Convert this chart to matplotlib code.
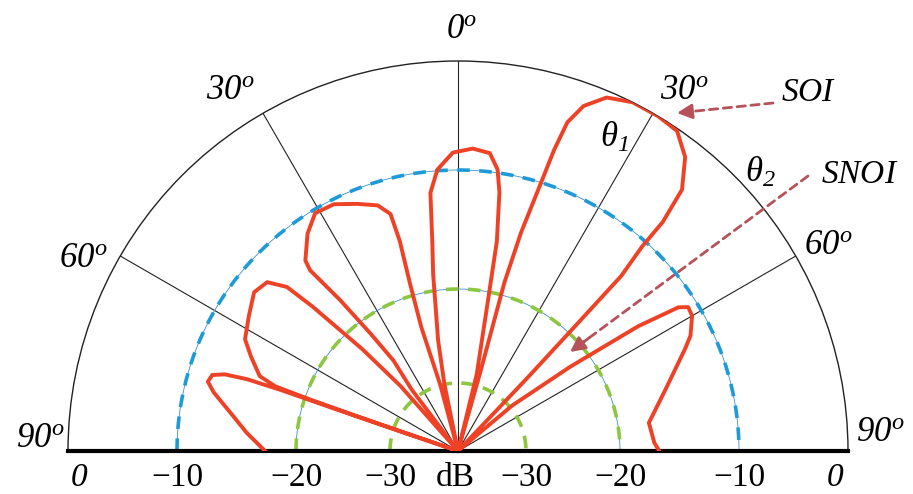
import matplotlib
matplotlib.use("Agg")
import matplotlib.pyplot as plt
import numpy as np

# beam pattern: angle (deg, clockwise from broadside) and level (dB)
pattern_deg = [-90.0, -85.1, -80.4, -76.5, -74.5, -72.8, -71.8, -71.2, -71.0, -71.1, -71.3, -71.3,
               -71.0, -70.8, -70.5, -69.3, -65.5, -62.3, -57.2, -52.1, -48.5, -46.2, -45.2, -44.3,
               -43.2, -41.5, -40.0, -37.0, -35.5, -36.7, -38.0, -39.3, -38.7, -34.7, -31.0, -26.7,
               -22.1, -18.1, -15.9, -15.5, -16.0, -16.5, -15.0, -13.0, -11.5, -10.2, -8.0, -7.0,
               -6.1, -4.2, -1.0, 2.8, 6.1, 8.0, 9.1, 10.5, 11.4, 13.7, 14.8, 15.8,
               15.4, 16.1, 17.2, 17.7, 18.4, 20.0, 22.8, 26.6, 30.9, 34.4, 37.7, 40.6,
               41.8, 42.0, 43.0, 43.2, 43.5, 46.0, 50.0, 53.1, 55.3, 56.9, 58.0, 60.0,
               63.6, 65.8, 73.4, 81.6, 87.6, 90.0]
pattern_db = [-17.4, -15.8, -14.2, -12.5, -11.8, -12.0, -13.0, -14.9, -17.9, -23.0, -30.6, -36.0,
              -26.0, -20.5, -17.3, -15.8, -14.5, -13.4, -12.7, -11.9, -12.2, -13.7, -16.4, -19.4,
              -22.4, -28.0, -36.0, -29.0, -25.4, -21.6, -17.5, -14.0, -13.1, -11.4, -10.3, -10.4,
              -11.2, -11.9, -12.9, -15.3, -19.0, -23.5, -30.0, -36.0, -30.0, -25.3, -18.6, -15.9,
              -11.8, -9.9, -8.4, -8.0, -8.3, -9.7, -11.6, -15.7, -21.7, -28.8, -36.0, -28.7,
              -18.9, -14.5, -10.0, -6.8, -4.0, -2.1, -0.6, 0.0, 0.0, -0.2, -1.7, -4.2,
              -7.6, -10.5, -13.5, -19.9, -26.6, -36.0, -29.7, -22.3, -15.2, -11.5, -10.8, -10.9,
              -11.8, -12.7, -15.4, -17.4, -17.1, -16.7]

ref_levels = [-10, -20, -30]
ref_colors = ["#1e9ad6", "#8dc63f", "#8dc63f"]
spoke_deg = [-60, -30, 0, 30, 60]
db_ticks = [-30, -20, -10]

# radial spacing of the original is not linear in dB
scale_db = [-100, -36, -30, -20, -10, 0, 100]
scale_r = [-725, 0, 68, 162, 281, 390, 1480]


def fwd(v):
    return np.interp(v, scale_db, scale_r)


def inv(v):
    return np.interp(v, scale_r, scale_db)


plt.rcParams["mathtext.fontset"] = "custom"
plt.rcParams["mathtext.it"] = "Liberation Serif:italic"
plt.rcParams["mathtext.rm"] = "Liberation Serif:italic"
plt.rcParams["font.family"] = "Liberation Serif"

W, H = 913, 494
fig = plt.figure(figsize=(W / 100, H / 100), dpi=100)
# square box: the half disc fills its width and sits in the vertical middle
cx, cy, R = 458, 451, 390
ax = fig.add_axes([(cx - R) / W, (H - cy - R / 2) / H, 2 * R / W, 2 * R / H],
                  projection="polar")
ax.set_theta_zero_location("N")
ax.set_theta_direction(-1)
ax.set_thetamin(-90)
ax.set_thetamax(90)
ax.set_rscale("function", functions=(fwd, inv))
ax.set_rlim(-36, 0)

ax.set_thetagrids(spoke_deg, labels=[""] * len(spoke_deg))
ax.xaxis.grid(True, color="#222222", lw=0.8)
ax.yaxis.grid(False)
ax.set_yticklabels([])
ax.tick_params(length=0)
ax.spines["polar"].set_linewidth(1.0)
ax.spines["polar"].set_color("#222222")
for s in ("start", "end"):
    ax.spines[s].set_linewidth(3)
    ax.spines[s].set_color("black")

th = np.deg2rad(np.linspace(-90, 90, 400))
for lvl, col in zip(ref_levels, ref_colors):
    if lvl > -30:
        ax.plot(th, np.full_like(th, lvl), color="#3a8fd0", lw=0.6, zorder=2)
    ax.plot(th, np.full_like(th, lvl), color=col, lw=2.6, ls=(0, (3.5, 2.6)), zorder=2)

ax.plot(np.deg2rad(pattern_deg), pattern_db, color="#ee4125", lw=2.8,
        solid_joinstyle="round", zorder=3)

# radial tick labels along the baseline
for side in (-90, 90):
    for v in db_ticks:
        ax.annotate("\u2212%d" % abs(v), (np.deg2rad(side), v), xytext=(0, -19),
                    textcoords="offset points", ha="center", va="center", fontsize=24)
    ax.annotate("$0$", (np.deg2rad(side), 0), xytext=(8 if side < 0 else -9, -19),
                textcoords="offset points", ha="center", va="center", fontsize=24)
ax.annotate("dB", (0, -36), xytext=(-2, -19), textcoords="offset points",
            ha="center", va="center", fontsize=24)

# angle labels (figure pixels from the top-left)
angle_labels = [("0", 462, 30), ("30", 230, 90), ("60", 83, 258), ("90", 40, 438),
                ("30", 684, 90), ("60", 828, 245), ("90", 880, 432)]
for txt, px, py in angle_labels:
    fig.text(px / W, 1 - py / H, "$%s^{o}$" % txt, ha="center", va="center", fontsize=25)

fig.text(614 / W, 1 - 138 / H, "$\\theta_{1}$", ha="center", va="center", fontsize=25)
fig.text(760 / W, 1 - 173 / H, "$\\theta_{2}$", ha="center", va="center", fontsize=25)
fig.text(809 / W, 1 - 93 / H, "$SOI$", ha="center", va="center", fontsize=24)
fig.text(860 / W, 1 - 175 / H, "$SNOI$", ha="center", va="center", fontsize=24)

arrow_col = "#b5525a"
for (x0, y0), (x1, y1) in [((773, 103), (677, 113)), ((808, 176), (570, 352))]:
    tail = (x0 / W, 1 - y0 / H)
    head = (x1 / W, 1 - y1 / H)
    ax.annotate("", xy=head, xytext=tail, xycoords="figure fraction",
                textcoords="figure fraction",
                arrowprops=dict(arrowstyle="-", color=arrow_col, lw=2, ls=(0, (3, 2)),
                                shrinkA=0, shrinkB=6))
    near = (head[0] + (tail[0] - head[0]) * 0.08, head[1] + (tail[1] - head[1]) * 0.08)
    ax.annotate("", xy=head, xytext=near, xycoords="figure fraction",
                textcoords="figure fraction",
                arrowprops=dict(arrowstyle="-|>,head_length=0.9,head_width=0.45",
                                color=arrow_col, lw=2, shrinkA=0, shrinkB=0))

fig.savefig("out.png", dpi=100)
